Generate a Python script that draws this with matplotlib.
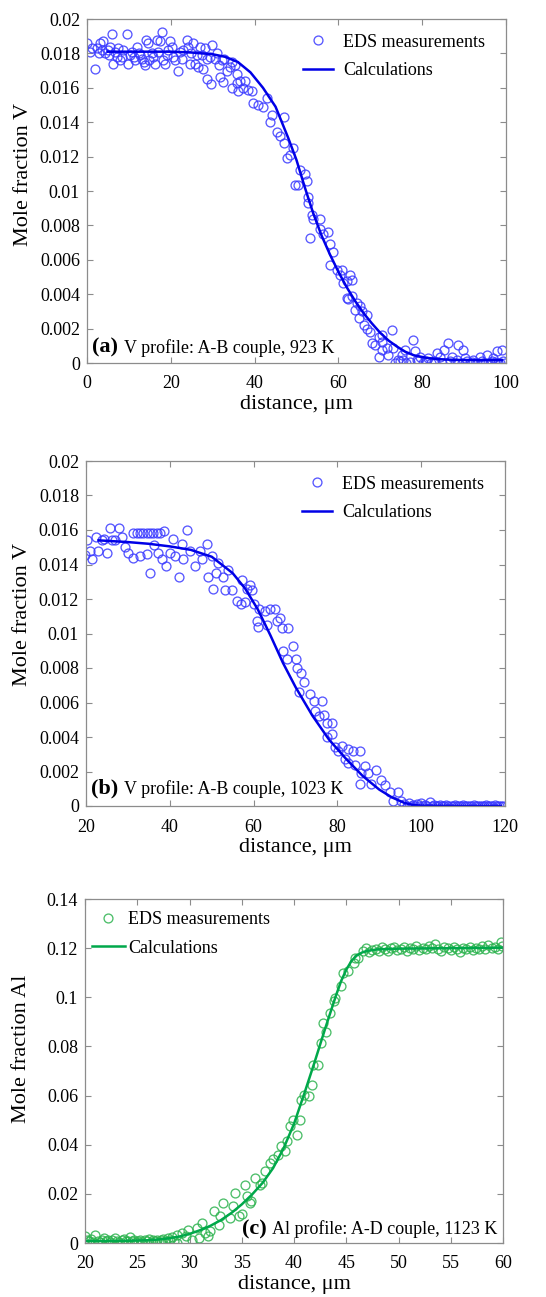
"""Diffusion profiles: EDS measurements vs calculations, three stacked panels."""
import matplotlib
matplotlib.use("Agg")
import matplotlib.pyplot as plt
from matplotlib.ticker import FuncFormatter, MultipleLocator

plt.rcParams["font.family"] = ["Liberation Serif", "DejaVu Serif"]
plt.rcParams["mathtext.fontset"] = "stix"

BLUE_M = "#3a3aff"
BLUE_L = "#0000e6"
GREEN_M = "#2db34f"
GREEN_L = "#00a84a"
GRAY = "#8c8c8c"

# ---- panel (a): V profile, A-B couple, 923 K  (values in 1e-3 mole fraction)
a_calc_x = [5, 10, 15, 20, 25, 30, 33, 36, 39, 42, 45, 48, 50, 52, 54, 56, 58, 60, 62, 64,
            66, 68, 70, 72, 74, 76, 78, 81, 84, 88, 92, 96, 99]
a_calc_y = [18.1, 18.1, 18.1, 18.1, 18.05, 17.95, 17.8, 17.5, 16.9, 16.0, 14.9, 13.1, 11.8, 10.2,
            8.7, 7.4, 6.3, 5.3, 4.4, 3.6, 2.9, 2.3, 1.75, 1.3, 0.95, 0.65, 0.45, 0.3, 0.22,
            0.18, 0.17, 0.17, 0.17]
a_eds_x = [0.0, 0.7, 1.3, 1.9, 2.4, 2.8, 3.1, 3.5, 3.9, 4.3, 4.9, 5.2, 5.5, 5.9, 6.3, 6.7, 7.1,
           7.5, 7.9, 8.3, 8.7, 9.5, 9.9, 10.3, 10.7, 11.1, 11.5, 11.9, 12.3, 12.7, 13.1, 13.5,
           13.9, 14.2, 14.6, 14.9, 15.4, 15.8, 16.2, 16.6, 17.0, 17.4, 17.8, 18.2, 18.6, 19.0,
           19.4, 19.8, 20.2, 20.6, 21.0, 21.8, 22.2, 22.6, 23.0, 23.8, 24.2, 24.6, 24.9, 25.4,
           25.8, 26.2, 26.6, 27.0, 27.4, 27.8, 28.2, 28.6, 28.6, 29.4, 29.7, 29.8, 30.6, 31.0,
           31.4, 31.7, 32.2, 32.5, 32.8, 33.3, 34.1, 34.5, 34.5, 35.3, 35.7, 35.7, 36.1, 36.5,
           37.3, 37.7, 38.5, 39.3, 39.7, 40.9, 42.1, 42.9, 43.7, 44.1, 45.3, 46.1, 46.9, 46.9,
           47.7, 48.5, 49.2, 49.6, 50.4, 50.8, 52.0, 52.4, 52.8, 52.8, 53.2, 53.6, 54.0, 55.6,
           55.6, 56.4, 57.5, 57.9, 58.0, 58.8, 59.6, 60.4, 60.8, 61.2, 62.0, 62.0, 62.4, 62.7,
           63.3, 63.3, 64.0, 64.4, 64.8, 65.2, 65.6, 66.0, 66.8, 66.8, 67.6, 68.0, 68.8, 69.6,
           69.6, 70.4, 70.4, 70.4, 71.5, 71.9, 72.7, 73.1, 73.5, 74.3, 74.7, 75.1, 75.5, 75.9,
           76.2, 77.0, 77.9, 78.3, 78.7, 79.0, 79.5, 80.3, 81.0, 81.5, 82.0, 82.7, 83.0, 83.5,
           84.3, 84.8, 85.1, 86.2, 86.6, 87.0, 87.8, 88.2, 88.6, 89.4, 89.8, 90.2, 90.6, 91.4,
           91.8, 92.2, 93.0, 93.8, 94.2, 94.6, 95.4, 95.8, 96.2, 96.6, 97.0, 97.4, 97.8, 98.2,
           98.6, 99.0, 99.4, 99.8]
a_eds_y = [18.6, 18.1, 18.3, 17.1, 18.3, 18.0, 18.6, 18.2, 18.7, 18.0, 18.2, 17.9, 18.4, 19.1,
           17.4, 18.1, 17.8, 18.3, 17.6, 17.8, 18.2, 19.1, 17.4, 17.9, 18.1, 17.8, 17.6, 18.4,
           18.0, 17.9, 17.7, 17.5, 17.3, 18.8, 18.6, 17.6, 18.0, 17.8, 17.4, 18.8, 18.1, 18.7,
           19.25, 17.6, 17.4, 17.9, 18.2, 18.7, 18.4, 17.8, 17.6, 17.0, 18.1, 17.7, 18.2, 18.8,
           18.4, 17.4, 18.0, 18.6, 17.4, 17.9, 17.2, 18.4, 17.9, 17.1, 18.3, 17.7, 16.5, 17.8,
           16.2, 18.5, 17.7, 18.0, 17.3, 16.65, 17.6, 16.35, 17.7, 17.0, 17.2, 15.97, 17.5, 17.3,
           16.26, 16.8, 15.8, 16.4, 16.0, 16.4, 15.9, 15.8, 15.1, 15.0, 14.9, 15.4, 14.0, 14.4,
           13.45, 13.2, 14.3, 12.8, 11.9, 12.1, 12.5, 10.35, 10.35, 11.2, 11.0, 10.6, 9.65, 9.3,
           7.25, 8.6, 8.4, 8.4, 7.8, 7.5, 7.6, 6.9, 5.7, 6.47, 5.4, 5.1, 5.4, 4.63, 4.75, 3.76,
           3.7, 5.1, 4.8, 3.9, 3.1, 3.47, 2.6, 3.3, 3.0, 2.2, 2.0, 2.8, 1.82, 1.15, 1.05, 1.5,
           0.37, 1.6, 1.2, 0.77, 0.87, 0.48, 1.92, 0.87, 0.0, 0.2, 0.1, 0.48, 0.15, 0.77, 0.0,
           0.05, 1.34, 0.67, 0.2, 0.1, 0.37, 0.0, 0.12, 0.29, 0.0, 0.1, 0.05, 0.58, 0.37, 0.0,
           0.77, 1.15, 0.1, 0.37, 0.0, 0.15, 1.05, 0.0, 0.77, 0.29, 0.1, 0.0, 0.05, 0.2, 0.0,
           0.37, 0.1, 0.0, 0.48, 0.0, 0.0, 0.1, 0.29, 0.05, 0.67, 0.0, 0.0, 0.77, 0.1, 0.0]

# ---- panel (b): V profile, A-B couple, 1023 K  (values in 1e-3 mole fraction)
b_calc_x = [23, 30, 35, 40, 45, 50, 55, 58, 61, 64, 67, 70, 74, 78, 82, 86, 90, 93, 96, 98,
            100, 110, 119]
b_calc_y = [15.4, 15.3, 15.2, 15.05, 14.85, 14.45, 13.5, 12.6, 11.4, 9.9, 8.3, 6.9, 5.25, 3.85,
            2.75, 1.75, 0.95, 0.5, 0.18, 0.06, 0.02, 0.0, 0.0]
b_eds_x = [19.8, 20.3, 21.0, 21.4, 22.4, 22.9, 23.7, 24.2, 24.9, 25.7, 26.3, 26.9, 27.9, 28.5,
           29.3, 30.1, 31.3, 31.3, 32.1, 32.9, 32.9, 33.7, 34.5, 34.5, 35.3, 35.3, 36.1, 36.3,
           36.9, 37.3, 37.7, 38.2, 38.5, 39.2, 40.0, 40.8, 41.2, 42.3, 42.8, 43.2, 44.0, 44.8,
           46.0, 47.2, 47.6, 48.8, 49.2, 50.0, 50.2, 51.0, 51.6, 52.6, 53.2, 54.0, 54.8, 56.1,
           56.9, 57.2, 58.0, 58.4, 59.2, 59.7, 60.0, 60.7, 61.1, 61.2, 62.8, 63.1, 64.0, 65.2,
           65.5, 66.4, 66.7, 67.1, 68.0, 68.3, 69.3, 70.0, 70.4, 70.8, 71.2, 72.0, 73.5, 74.3,
           74.7, 75.5, 76.3, 76.7, 77.5, 77.5, 78.6, 78.6, 79.4, 80.2, 81.0, 81.8, 82.6, 82.6,
           83.8, 84.2, 85.4, 85.4, 85.7, 86.5, 87.3, 88.1, 89.3, 90.5, 91.3, 92.5, 93.3, 94.4,
           95.2, 96.0, 96.5, 97.0, 97.5, 98.0, 98.5, 99.0, 99.5, 100.0, 100.5, 101.0, 101.5,
           102.0, 102.5, 103.0, 103.5, 104.0, 104.5, 105.0, 105.5, 106.0, 106.5, 107.0, 107.5,
           108.0, 108.5, 109.0, 109.5, 110.0, 110.5, 111.0, 111.5, 112.0, 112.5, 113.0, 113.5,
           114.0, 114.5, 115.0, 115.5, 116.0, 116.5, 117.0, 117.5, 118.0, 118.5, 119.0, 119.5]
b_eds_y = [14.55, 15.4, 14.8, 14.3, 15.6, 14.8, 15.4, 15.5, 14.65, 16.1, 15.4, 15.4, 16.1, 15.6,
           15.0, 14.65, 14.36, 15.8, 15.8, 14.5, 15.8, 15.8, 14.6, 15.8, 13.5, 15.8, 15.8, 15.15,
           15.8, 14.65, 15.8, 14.3, 15.95, 13.9, 14.65, 15.5, 14.5, 13.3, 15.2, 14.3, 16.0, 14.8,
           13.9, 14.8, 14.3, 15.2, 13.3, 14.5, 12.6, 13.5, 14.1, 13.3, 12.5, 13.7, 12.5, 11.9,
           11.7, 13.1, 11.8, 12.6, 12.8, 12.5, 11.7, 10.7, 10.4, 11.4, 11.3, 10.5, 11.4, 11.4,
           10.7, 10.9, 10.3, 9.0, 8.5, 10.3, 9.3, 8.5, 8.0, 6.6, 7.7, 7.2, 6.5, 6.1, 5.5, 5.2,
           6.1, 5.3, 4.8, 4.0, 4.8, 4.2, 3.44, 3.2, 3.5, 2.7, 3.3, 2.5, 3.2, 2.4, 3.2, 1.3, 1.9,
           2.3, 1.9, 1.3, 2.1, 1.5, 1.2, 0.8, 0.3, 0.8, 0.3, 0.1, 0.0, 0.15, 0.0, 0.05, 0.0,
           0.1, 0.0, 0.2, 0.0, 0.05, 0.0, 0.25, 0.0, 0.05, 0.0, 0.0, 0.05, 0.0, 0.0, 0.05, 0.0,
           0.0, 0.0, 0.05, 0.0, 0.0, 0.0, 0.05, 0.0, 0.0, 0.0, 0.0, 0.05, 0.0, 0.0, 0.0, 0.0,
           0.0, 0.05, 0.0, 0.0, 0.0, 0.05, 0.0, 0.0, 0.0, 0.0]

# ---- panel (c): Al profile, A-D couple, 1123 K
c_calc_x = [20, 22, 24, 26, 27, 28, 29, 30, 31, 32, 33, 34, 35, 36, 37, 38, 39, 40, 41, 42,
            43, 44, 44.5, 45, 45.5, 46, 46.5, 47, 48, 50, 55, 60]
c_calc_y = [0.0008, 0.0008, 0.0009, 0.0011, 0.0014, 0.0019, 0.0026, 0.0037, 0.0052, 0.0070,
            0.0093, 0.0122, 0.0157, 0.0198, 0.0245, 0.0305, 0.0385, 0.0485, 0.0610, 0.0740,
            0.0875, 0.1005, 0.1065, 0.1112, 0.1148, 0.1170, 0.1182, 0.1189, 0.1195, 0.1198,
            0.1200, 0.1202]
c_eds_x = [20.0, 20.2, 20.4, 20.6, 20.8, 21.0, 21.2, 21.4, 21.6, 21.8, 22.0, 22.2, 22.4, 22.6,
           22.9, 23.1, 23.3, 23.5, 23.7, 23.9, 24.1, 24.3, 24.5, 24.7, 24.9, 25.1, 25.3, 25.5,
           25.7, 25.9, 26.1, 26.3, 26.5, 26.7, 26.9, 27.1, 27.3, 27.5, 27.7, 27.9, 28.1, 28.3,
           28.5, 28.8, 28.8, 29.3, 29.7, 29.9, 30.2, 30.7, 30.9, 31.2, 31.5, 31.8, 32.0, 32.3,
           32.8, 32.9, 33.2, 33.9, 34.2, 34.4, 34.7, 35.0, 35.3, 35.5, 35.8, 35.9, 36.3, 36.7,
           36.9, 37.2, 37.7, 38.0, 38.5, 38.8, 39.1, 39.3, 39.6, 39.9, 40.3, 40.6, 40.7, 41.0,
           41.4, 41.7, 41.8, 42.3, 42.6, 42.8, 43.1, 43.4, 43.8, 43.9, 44.5, 44.7, 45.2, 45.7,
           45.8, 46.1, 46.6, 46.9, 47.2, 47.5, 47.8, 48.1, 48.4, 48.7, 49.0, 49.3, 49.6, 49.9,
           50.2, 50.5, 50.8, 51.1, 51.4, 51.7, 52.0, 52.3, 52.6, 52.9, 53.2, 53.5, 53.8, 54.1,
           54.4, 54.7, 55.0, 55.3, 55.6, 55.9, 56.2, 56.5, 56.8, 57.1, 57.4, 57.7, 58.0, 58.3,
           58.6, 58.9, 59.2, 59.5, 59.8, 59.9]
c_eds_y = [0.0030, 0.0012, 0.0008, 0.0015, 0.0006, 0.0033, 0.0010, 0.0005, 0.0012, 0.0020,
           0.0008, 0.0014, 0.0006, 0.0011, 0.0020, 0.0009, 0.0005, 0.0012, 0.0015, 0.0007,
           0.0010, 0.0025, 0.0008, 0.0012, 0.0005, 0.0010, 0.0014, 0.0006, 0.0011, 0.0008,
           0.0016, 0.0005, 0.0012, 0.0009, 0.0014, 0.0006, 0.0012, 0.0018, 0.0010, 0.0020,
           0.0012, 0.0025, 0.0008, 0.0034, 0.0000, 0.0041, 0.0027, 0.0054, 0.0014, 0.0061,
           0.0020, 0.0081, 0.0041, 0.0027, 0.0047, 0.0129, 0.0075, 0.0109, 0.0163, 0.0102,
           0.0150, 0.0204, 0.0109, 0.0116, 0.0237, 0.0190, 0.0163, 0.0170, 0.0265, 0.0237,
           0.0244, 0.0292, 0.0326, 0.0340, 0.0360, 0.0394, 0.0374, 0.0414, 0.0475, 0.0502,
           0.0440, 0.0502, 0.0584, 0.0604, 0.0597, 0.0645, 0.0726, 0.0726, 0.0814, 0.0895,
           0.0860, 0.0936, 0.0983, 0.0997, 0.1045, 0.1100, 0.1105, 0.1140, 0.1160, 0.1160,
           0.1190, 0.1200, 0.1185, 0.1192, 0.1198, 0.1190, 0.1203, 0.1195, 0.1188, 0.1200,
           0.1206, 0.1193, 0.1198, 0.1204, 0.1190, 0.1200, 0.1196, 0.1208, 0.1192, 0.1200,
           0.1195, 0.1210, 0.1202, 0.1215, 0.1198, 0.1190, 0.1205, 0.1200, 0.1194, 0.1203,
           0.1198, 0.1185, 0.1200, 0.1196, 0.1205, 0.1192, 0.1200, 0.1198, 0.1207, 0.1195,
           0.1212, 0.1200, 0.1205, 0.1198, 0.1225, 0.1210]

W, H = 546, 1297


def frac(v, _):
    return "0" if v == 0 else "%g" % round(v, 6)


def style_axes(ax):
    for s in ax.spines.values():
        s.set_color(GRAY)
        s.set_linewidth(0.9)
    ax.tick_params(direction="in", top=True, right=True, length=4, width=0.8, color=GRAY,
                   labelsize=13, labelcolor="black")
    ax.tick_params(axis="x", pad=9)
    ax.tick_params(axis="y", pad=5)
    ax.yaxis.set_major_formatter(FuncFormatter(frac))


def panel(box, xs, ys, lx, ly, color_m, color_l, xlim, ylim, ystep, xstep, ylabel, ylab_y,
          tag, caption, tag_pos, cap_x, leg):
    l, t, r, b = box
    ax = fig.add_axes([l / W, 1 - b / H, (r - l) / W, (b - t) / H])
    ax.plot(xs, ys, "o", ms=6.4, mfc="none", mec=color_m, mew=0.95, alpha=0.85,
            label="EDS measurements")
    ax.plot(lx, ly, "-", color=color_l, lw=1.8, label="Calculations")
    ax.set_xlim(*xlim)
    ax.set_ylim(*ylim)
    ax.xaxis.set_major_locator(MultipleLocator(xstep))
    ax.yaxis.set_major_locator(MultipleLocator(ystep))
    style_axes(ax)
    ax.set_xlabel("distance, \u03bcm", fontsize=16)
    ax.set_ylabel(ylabel, fontsize=16)
    ax.xaxis.set_label_coords(0.5, -0.092)
    ax.yaxis.set_label_coords(-0.128, ylab_y)
    ax.text(tag_pos[0], tag_pos[1], tag, transform=ax.transAxes, fontsize=16,
            fontweight="bold", ha="left", va="baseline")
    ax.text(cap_x, tag_pos[1], caption, transform=ax.transAxes, fontsize=13,
            ha="left", va="baseline")
    loc, anchor, hlen, hpad = leg
    ax.legend(loc=loc, bbox_to_anchor=anchor, frameon=False, fontsize=13,
              handlelength=hlen, handletextpad=hpad, borderaxespad=0.0, labelspacing=0.62)
    return ax


fig = plt.figure(figsize=(W / 100, H / 100), dpi=100)

a_y = [v / 1000 for v in a_eds_y]
a_ly = [v / 1000 for v in a_calc_y]
panel((87, 19, 506, 363), a_eds_x, a_y, a_calc_x, a_ly, BLUE_M, BLUE_L, (0, 100), (0, 0.02),
      0.002, 20, "Mole fraction V", 0.547, "(a)", "V profile: A-B couple, 923 K",
      (0.012, 0.03), 0.088, ("upper right", (0.967, 0.978), 1.65, 0.55))

b_y = [v / 1000 for v in b_eds_y]
b_ly = [v / 1000 for v in b_calc_y]
axb = panel((86, 461, 505, 806), b_eds_x, b_y, b_calc_x, b_ly, BLUE_M, BLUE_L, (20, 120),
            (0, 0.02), 0.002, 20, "Mole fraction V", 0.554, "(b)",
            "V profile: A-B couple, 1023 K", (0.012, 0.035), 0.091,
            ("upper right", (0.967, 0.978), 1.65, 0.55))
fig.canvas.draw()
axb.get_xticklabels()[0].set_fontsize(11)

panel((85, 899, 503, 1243), c_eds_x, c_eds_y, c_calc_x, c_calc_y, GREEN_M, GREEN_L, (20, 60),
      (0, 0.14), 0.02, 5, "Mole fraction Al", 0.565, "(c)", "Al profile: A-D couple, 1123 K",
      (0.376, 0.025), 0.447, ("upper left", (0.0, 0.985), 1.8, 0.2))

fig.savefig("out.png", dpi=100)
